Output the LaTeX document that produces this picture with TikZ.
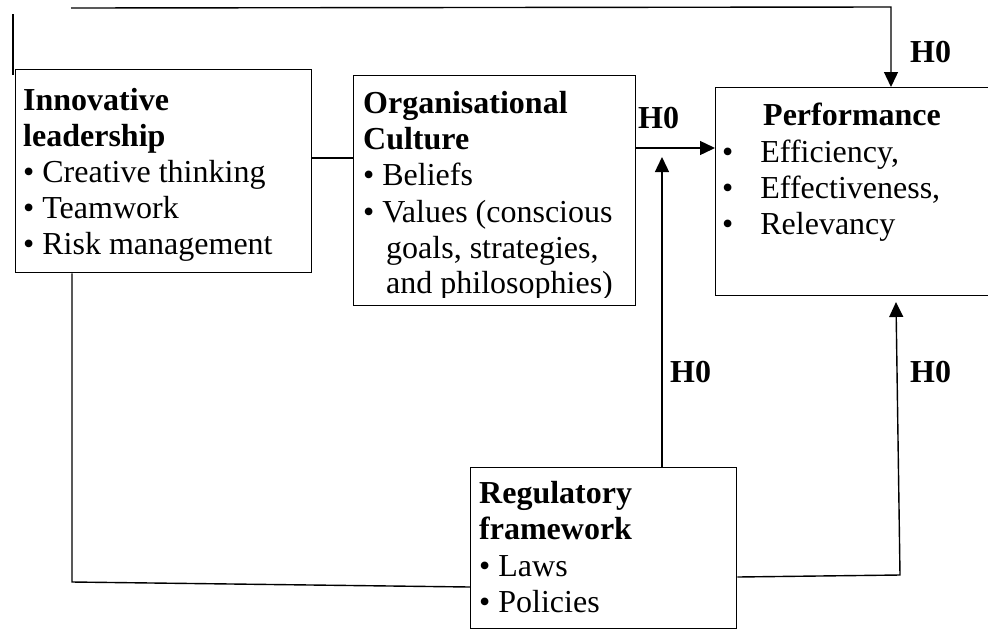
\documentclass[tikz,border=0pt]{standalone}
\usepackage{fontspec}
\setmainfont{Liberation Serif}
\usetikzlibrary{arrows.meta}
\begin{document}
\begin{tikzpicture}[x=1pt,y=-1pt,
  box/.style={draw,line width=1.4pt,inner sep=0pt,anchor=north west},
  txt/.style={inner sep=0pt,anchor=base west,font=\fontsize{32}{36}\selectfont},
  hd/.style={inner sep=0pt,anchor=base west,font=\fontsize{32}{36}\selectfont\bfseries},
  conn/.style={line width=1.4pt},
  arr/.style={line width=1.4pt,-{Triangle[length=15pt,width=14pt]}}]
\useasboundingbox (0,0) rectangle (988,630);
% boxes
\node[box,minimum width=296pt,minimum height=203pt] (lead) at (15,69) {};
\node[box,minimum width=282pt,minimum height=230pt] (cult) at (353,75) {};
\node[box,minimum width=285pt,minimum height=208pt] (perf) at (715,87) {};
\node[box,minimum width=266pt,minimum height=161pt] (reg) at (470,467) {};
% innovative leadership
\node[hd] (lt1) at (23,110) {Innovative};
\node[hd] (lt2) at (23,146) {leadership};
\node[txt] (lt3) at (23,182) {• Creative thinking};
\node[txt] (lt4) at (23,218) {• Teamwork};
\node[txt] (lt5) at (23,254) {• Risk management};
% organisational culture
\node[hd] (ct1) at (363,113) {Organisational};
\node[hd] (ct2) at (363,149) {Culture};
\node[txt] (ct3) at (363,185) {• Beliefs};
\node[txt] (ct4) at (363,222) {• Values (conscious};
\node[txt] (ct5) at (386,258) {goals, strategies,};
\begin{scope}
\clip (353,262) rectangle (635,297);
\node[txt] (ct6) at (386,293) {and philosophies)};
\end{scope}
% performance
\node[hd] (pt1) at (763,125) {Performance};
\node[txt] (pt2) at (722,162) {•\hspace{27pt}Efficiency,};
\node[txt] (pt3) at (722,198) {•\hspace{27pt}Effectiveness,};
\node[txt] (pt4) at (722,234) {•\hspace{27pt}Relevancy};
% regulatory framework
\node[hd] (rt1) at (479,503) {Regulatory};
\node[hd] (rt2) at (479,539) {framework};
\node[txt] (rt3) at (479,576) {• Laws};
\node[txt] (rt4) at (479,612) {• Policies};
% H0 labels
\node[hd] (h1) at (910,62) {H0};
\node[hd] (h2) at (638,128) {H0};
\node[hd] (h3) at (670,382) {H0};
\node[hd] (h4) at (910,382) {H0};
% coordinates
\coordinate (l0) at (13,14);
\coordinate (l1) at (13,75);
\coordinate (t0) at (71,8);
\coordinate (t1) at (891,7);
\coordinate (lc) at (0,158);
\coordinate (cp) at (0,148);
\coordinate (rm) at (662,157);
\coordinate (rp) at (900,575);
\coordinate (pb) at (896,302);
\coordinate (rr) at (0,577);
\coordinate (lb) at (72,582);
\coordinate (rl) at (0,587);
% connectors
\draw[conn] (l0) -- (l1);
\draw[arr] (t0) -- (t1) -- (perf.north -| t1);
\draw[conn] (lead.east |- lc) -- (cult.west |- lc);
\draw[arr] (cult.east |- cp) -- (perf.west |- cp);
\draw[arr] (reg.north -| rm) -- (rm);
\draw[arr] (reg.east |- rr) -- (rp) -- (pb);
\draw[conn] (lead.south -| lb) -- (lb) -- (reg.west |- rl);
\end{tikzpicture}
\end{document}
